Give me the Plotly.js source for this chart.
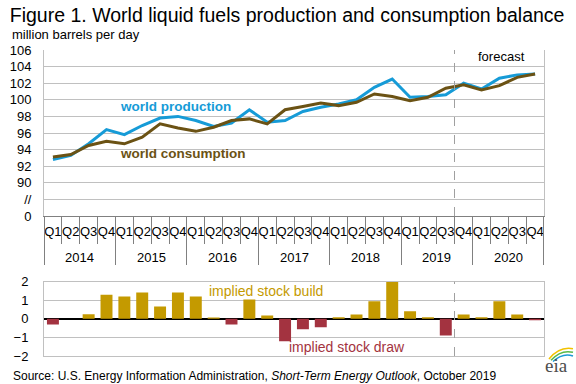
<!DOCTYPE html>
<html><head><meta charset="utf-8">
<script src="https://cdn.plot.ly/plotly-3.0.1.min.js"></script>
<style>html,body{margin:0;padding:0;background:#fff}#chart{width:576px;height:384px}</style>
</head><body><div id="chart"></div>
<script>
const years = ['2014','2015','2016','2017','2018','2019','2020'];
const quarterLabels = ['Q1','Q2','Q3','Q4','Q1','Q2','Q3','Q4','Q1','Q2','Q3','Q4','Q1','Q2','Q3','Q4',
  'Q1','Q2','Q3','Q4','Q1','Q2','Q3','Q4','Q1','Q2','Q3','Q4'];
const periods = ['2014 Q1','2014 Q2','2014 Q3','2014 Q4','2015 Q1','2015 Q2','2015 Q3','2015 Q4',
  '2016 Q1','2016 Q2','2016 Q3','2016 Q4','2017 Q1','2017 Q2','2017 Q3','2017 Q4',
  '2018 Q1','2018 Q2','2018 Q3','2018 Q4','2019 Q1','2019 Q2','2019 Q3','2019 Q4',
  '2020 Q1','2020 Q2','2020 Q3','2020 Q4'];
const production = [92.8,93.3,94.7,96.4,95.8,96.9,97.8,98.0,97.5,96.8,97.2,98.8,97.3,97.5,98.6,99.1,
  99.5,100.0,101.5,102.5,100.3,100.4,100.6,102.0,101.3,102.6,103.0,103.1];
const consumption = [93.1,93.4,94.5,95.0,94.7,95.5,97.1,96.6,96.2,96.7,97.5,97.7,97.1,98.8,99.2,99.6,
  99.3,99.7,100.7,100.4,99.9,100.3,101.4,101.8,101.2,101.7,102.7,103.1];
const balance = [-0.3,0.0,0.25,1.3,1.2,1.42,0.66,1.42,1.2,0.07,-0.3,1.04,0.18,-1.2,-0.56,-0.45,
  0.09,0.23,0.95,2.03,0.41,0.09,-0.89,0.23,0.09,0.95,0.23,-0.07];
const yTickVals = [86,88,90,92,94,96,98,100,102,104,106];
const yTickText = ['0','//','90','92','94','96','98','100','102','104','106'];

const FONT = 'Arial, "Liberation Sans", sans-serif';
const BLUE = '#169BD7', BROWN = '#6B5214', GOLD = '#C49A00', RED = '#A33340';
const GRID = '#C0C0C0', AXIS = '#808080';

const traces = [
  {x: periods, y: production, type:'scatter', mode:'lines', line:{color:BLUE, width:3}, xaxis:'x', yaxis:'y', hoverinfo:'skip'},
  {x: periods, y: consumption, type:'scatter', mode:'lines', line:{color:BROWN, width:3}, xaxis:'x', yaxis:'y', hoverinfo:'skip'},
  {x: periods, y: balance, type:'bar', marker:{color: balance.map(v => v >= 0 ? GOLD : RED)}, xaxis:'x2', yaxis:'y2', hoverinfo:'skip'}
];

// layout geometry
const ML = 44, PW = 500;
const AXIS_Y = 0.4575;
const QSEP_Y = (356 - 244) / 306;
const YSEP_Y = (356 - 265) / 306;
const YEAR_Y = (356 - 257) / 306;
const nP = periods.length;
// boundary k between categories, snapped to a pixel centre so 1px lines stay crisp
const snapX = k => (Math.floor(ML + k * PW / nP) + 0.5 - ML) / PW;

const shapes = [
  {type:'line', xref:'paper', yref:'y domain', x0:snapX(23), x1:snapX(23), y0:0, y1:1, line:{color:'#A0A0A0', width:1, dash:'dash'}},
  {type:'line', xref:'paper', yref:'y2 domain', x0:snapX(23), x1:snapX(23), y0:0, y1:1, line:{color:'#A0A0A0', width:1, dash:'dash'}},
  {type:'path', xref:'paper', yref:'paper', path:'M 1.010 -0.010 Q 1.030 0.032 1.058 0.024', line:{color:'#F2C200', width:1.5}},
  {type:'path', xref:'paper', yref:'paper', path:'M 1.014 -0.014 Q 1.034 0.022 1.058 0.012', line:{color:'#5BB947', width:1.5}},
  {type:'path', xref:'paper', yref:'paper', path:'M 1.018 -0.018 Q 1.038 0.012 1.058 0.000', line:{color:'#1C9AD6', width:1.5}}
];
for (let k = 0; k <= nP; k++) {
  const isYear = (k % 4 === 0);
  const xk = k === nP ? (PW - 0.5) / PW : snapX(k);
  shapes.push({type:'line', layer:'above', xref:'paper', yref:'paper', x0:xk, x1:xk, y0:AXIS_Y, y1: isYear ? YSEP_Y : QSEP_Y,
    line:{color:AXIS, width:1}});
}

const annotations = [
  {text:'million barrels per day', xref:'paper', yref:'paper', x:-0.068, y:(356-35)/306, xanchor:'left', yanchor:'middle',
    showarrow:false, font:{family:FONT, size:13, color:'#000'}},
  {text:'<b>world production</b>', xref:'paper', yref:'y', x:0.262, y:99.2, xanchor:'center', showarrow:false, font:{family:FONT, size:13.5, color:BLUE}},
  {text:'<b>world consumption</b>', xref:'paper', yref:'y', x:0.278, y:93.5, xanchor:'center', showarrow:false, font:{family:FONT, size:13.5, color:BROWN}},
  {text:'forecast', xref:'paper', yref:'y', x:0.915, y:105.2, xanchor:'center', showarrow:false, font:{family:FONT, size:13, color:'#000'}},
  {text:'implied stock build', xref:'paper', yref:'y2', x:0.444, y:1.48, xanchor:'center', showarrow:false, font:{family:FONT, size:14, color:GOLD}},
  {text:'implied stock draw', xref:'paper', yref:'y2', x:0.606, y:-1.5, xanchor:'center', showarrow:false, font:{family:FONT, size:14, color:RED}},
  {text:'Source: U.S. Energy Information Administration, <i>Short-Term Energy Outlook</i>, October 2019', xref:'paper', yref:'paper',
    x:-0.066, y:-0.0654, xanchor:'left', yanchor:'middle', showarrow:false, font:{family:FONT, size:12, color:'#000'}},
  {text:'eia', xref:'paper', yref:'paper', x:1.024, y:-0.03, xanchor:'center', yanchor:'middle', showarrow:false,
    font:{family:'"Liberation Serif", "DejaVu Serif", serif', size:19, color:'#4D4D4D'}}
];
years.forEach((yr, j) => {
  annotations.push({text:yr, xref:'x', yref:'paper', x: j*4 + 1.5, y: YEAR_Y, xanchor:'center', yanchor:'middle',
    showarrow:false, font:{family:FONT, size:13, color:'#000'}});
});

const layout = {
  width:576, height:384,
  margin:{l:ML, r:32, t:50, b:28},
  paper_bgcolor:'#fff', plot_bgcolor:'#fff',
  showlegend:false,
  font:{family:FONT, size:13, color:'#000'},
  bargap:0.33,
  title:{text:'Figure 1. World liquid fuels production and consumption balance', x:0.017, xanchor:'left', xref:'container',
    y:1-15/384, yanchor:'middle', yref:'container', font:{family:FONT, size:19.5, color:'#000'}},
  xaxis:{type:'category', domain:[0,1], anchor:'y', range:[-0.5, nP-0.5], showgrid:false, ticks:'',
    tickmode:'array', tickvals:periods, ticktext:quarterLabels, tickangle:0, ticklabelstandoff:3,
    showline:true, linecolor:AXIS, tickfont:{family:FONT, size:13, color:'#000'}},
  yaxis:{domain:[AXIS_Y,1], range:[86,106], tickvals:yTickVals, ticktext:yTickText, showgrid:true, gridcolor:GRID,
    zeroline:false, showline:true, linecolor:GRID, mirror:true, ticks:'', ticklabelstandoff:9,
    tickfont:{family:FONT, size:13, color:'#000'}},
  xaxis2:{type:'category', domain:[0,1], anchor:'y2', range:[-0.5, nP-0.5], showticklabels:false, showgrid:false, ticks:'',
    showline:true, linecolor:GRID, mirror:true},
  yaxis2:{domain:[0,0.2428], range:[-2,2], dtick:1, showgrid:true, gridcolor:GRID, zeroline:true, zerolinecolor:'#000',
    zerolinewidth:1.5, showline:true, linecolor:GRID, mirror:true, ticks:'', ticklabelstandoff:12,
    tickfont:{family:FONT, size:13, color:'#000'}},
  shapes: shapes,
  annotations: annotations
};

Plotly.newPlot('chart', traces, layout, {staticPlot:true, displayModeBar:false});
</script>
</body></html>
